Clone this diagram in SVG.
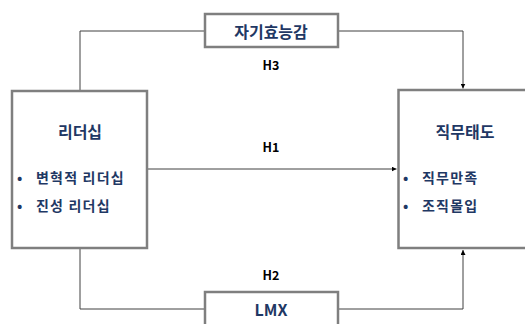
<svg xmlns="http://www.w3.org/2000/svg" width="525" height="324" viewBox="0 0 525 324">
<style>
.box{fill:#fff;stroke:#7f7f7f;stroke-width:2.5}
.t{font-family:"Noto Sans CJK KR","Malgun Gothic",sans-serif;font-weight:bold;fill:#1f3864;text-anchor:middle;dominant-baseline:central}
.b{font-family:"Noto Sans CJK KR",sans-serif;font-weight:bold;fill:#1f3864;font-size:14px;letter-spacing:1.2px;dominant-baseline:central}
.h{font-family:"Noto Sans CJK KR",sans-serif;font-weight:bold;fill:#000;font-size:12.5px;text-anchor:middle;dominant-baseline:central}
.c{fill:none;stroke:#404040;stroke-width:1}
</style>
<defs>
<marker id="ar" viewBox="0 0 6 6" refX="6" refY="3" markerWidth="5" markerHeight="5" orient="auto" markerUnits="userSpaceOnUse">
<path d="M0,0 L6,3 L0,6 z" fill="#000"/>
</marker>
</defs>
<g id="connectors">
<path class="c" d="M80,90 V31 H205"/>
<path class="c" d="M338,31 H463 V88.5" marker-end="url(#ar)"/>
<path class="c" d="M147,169 H396.5" marker-end="url(#ar)"/>
<path class="c" d="M80,248 V309 H205"/>
<path class="c" d="M338,309 H463 V250" marker-end="url(#ar)"/>
<text class="h" x="271" y="64">H3</text>
<text class="h" x="271" y="146">H1</text>
<text class="h" x="271" y="274">H2</text>
</g>
<g id="self-efficacy">
<rect class="box" x="205" y="14" width="133" height="33"/>
<text class="t" x="271" y="31" font-size="16">자기효능감</text>
</g>
<g id="leadership">
<rect class="box" x="12" y="91" width="135" height="157"/>
<text class="t" x="80" y="131" font-size="16">리더십</text>
<text class="b" x="17" y="177">•</text>
<text class="b" x="36" y="177">변혁적 리더십</text>
<text class="b" x="17" y="205">•</text>
<text class="b" x="36" y="205">진성 리더십</text>
</g>
<g id="job-attitude">
<rect class="box" x="398.5" y="90" width="140" height="158"/>
<text class="t" x="465" y="131" font-size="16">직무태도</text>
<text class="b" x="403" y="177">•</text>
<text class="b" x="422" y="177">직무만족</text>
<text class="b" x="403" y="205">•</text>
<text class="b" x="422" y="205">조직몰입</text>
</g>
<g id="lmx">
<rect class="box" x="205" y="292" width="133" height="40"/>
<text class="t" x="271" y="309" font-size="16">LMX</text>
</g>
</svg>
